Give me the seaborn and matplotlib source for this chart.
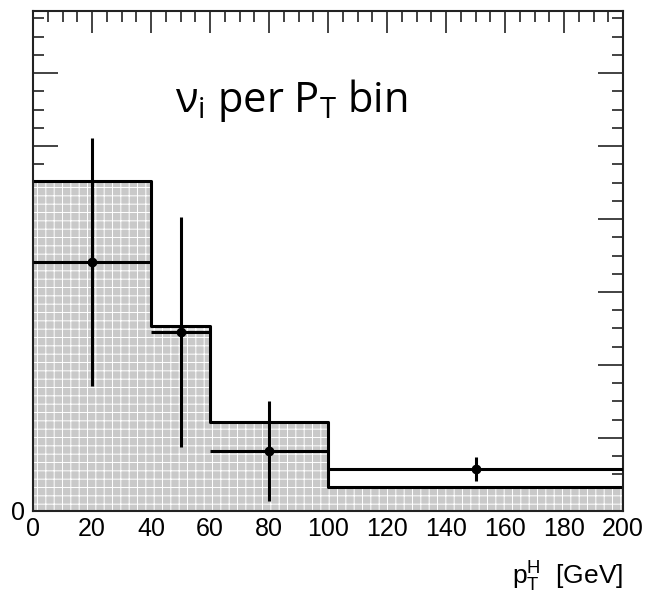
import numpy as np
import matplotlib
matplotlib.use("Agg")
import matplotlib.pyplot as plt
import seaborn as sns

# bin edges in pT and the fitted yield per bin (arbitrary units)
bin_edges = [0, 40, 60, 100, 200]
bin_height = [4.52, 2.53, 1.22, 0.33]

# measured points with errors
pt_center = [20, 50, 80, 150]
pt_halfwidth = [20, 10, 20, 50]
nu_value = [3.41, 2.45, 0.82, 0.575]
nu_error = [1.70, 1.58, 0.68, 0.17]

sns.set_style("ticks")
plt.rcParams["font.family"] = ["Liberation Sans", "DejaVu Sans"]
plt.rcParams["text.color"] = "black"
plt.rcParams["axes.labelcolor"] = "black"
plt.rcParams["xtick.color"] = "black"
plt.rcParams["ytick.color"] = "black"
plt.rcParams["axes.edgecolor"] = "black"
plt.rcParams["hatch.color"] = "white"
plt.rcParams["hatch.linewidth"] = 0.7
plt.rcParams["mathtext.fontset"] = "custom"
plt.rcParams["mathtext.rm"] = "Liberation Sans"
plt.rcParams["mathtext.it"] = "Liberation Sans"

fig = plt.figure(figsize=(6.51, 6.01), dpi=100)
ax = fig.add_axes([0.0507, 0.1498, 0.9063, 0.8319])

centers = [(a + b) / 2 for a, b in zip(bin_edges[:-1], bin_edges[1:])]

# gray hatched fill
sns.histplot(x=centers, weights=bin_height, bins=bin_edges, element="step",
             fill=True, color="#c9c9c9", alpha=1, linewidth=0, ax=ax)
for coll in ax.collections:
    coll.set_hatch("||--")
    coll.set_edgecolor("white")
    coll.set_linewidth(0)
# black outline
sns.histplot(x=centers, weights=bin_height, bins=bin_edges, element="step",
             fill=False, color="black", linewidth=2.2, ax=ax)

ax.errorbar(pt_center, nu_value, xerr=pt_halfwidth, yerr=nu_error, fmt="o",
            color="black", markersize=6, elinewidth=2.2, capsize=0, zorder=5)

ax.set_xlim(0, 200)
ax.set_ylim(0, 6.85)

ax.set_xticks(np.arange(0, 201, 20))
ax.set_xticks(np.arange(0, 201, 5), minor=True)
ax.set_yticks(np.arange(0, 7, 1))
ax.set_yticks(np.arange(0, 6.85, 0.25), minor=True)
ax.set_yticklabels(["0"] + [""] * 6)

ax.tick_params(which="both", direction="in", top=True, right=True,
               width=1.2, color="#222222", labelsize=18, labelcolor="black")
ax.tick_params(axis="x", which="major", length=16, pad=4)
ax.tick_params(axis="y", which="major", length=18, pad=6)
ax.tick_params(which="minor", length=8)
for s in ax.spines.values():
    s.set_linewidth(1.5)
    s.set_color("#222222")

ax.set_ylabel("")
ax.set_xlabel(r"$\mathregular{p_T^H}$  [GeV]", fontsize=19, loc="right",
              labelpad=14, color="black")

ax.text(0.24, 0.798, r"$\mathregular{ν_i}$ per $\mathregular{P_T}$ bin",
        transform=ax.transAxes, fontsize=30, va="baseline", ha="left",
        color="black", family=["Open Sans", "DejaVu Sans"])

fig.savefig("out.png", dpi=100)
